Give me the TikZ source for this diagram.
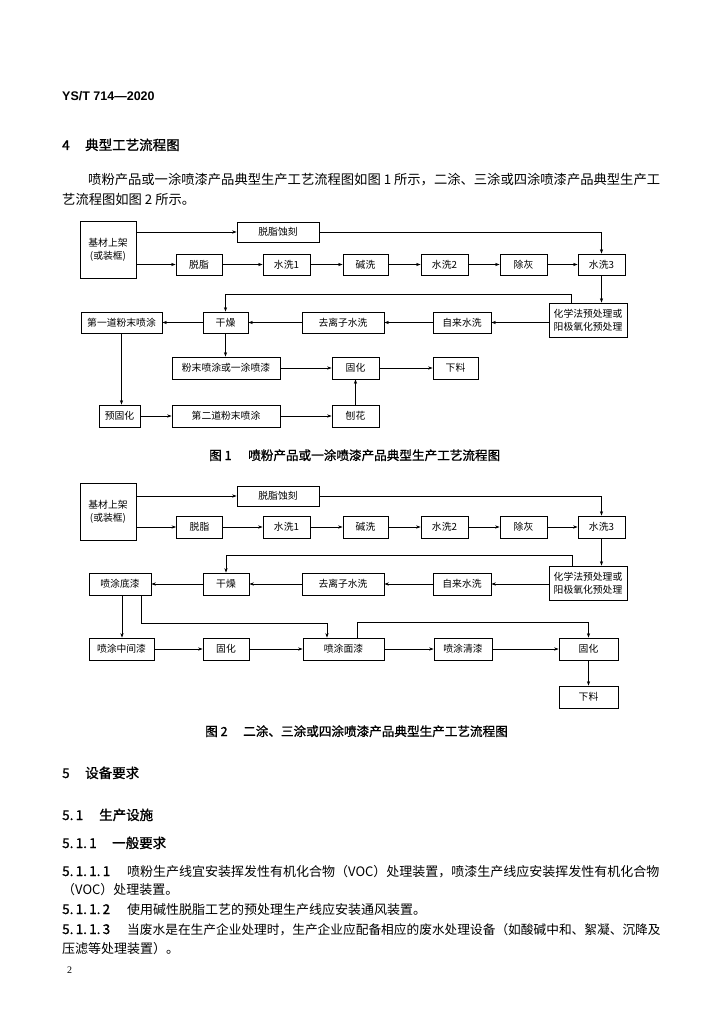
\documentclass[tikz,border=0pt]{standalone}
\usepackage{fontspec}
\setmainfont{Liberation Serif}
\newfontfamily\cjk{Noto Sans CJK SC}
\newfontfamily\cjkb[FakeBold=1.2]{Noto Sans CJK SC}
\newfontfamily\hsans{Liberation Sans}
\usetikzlibrary{arrows.meta}
\begin{document}
\begin{tikzpicture}[x=1pt,y=-1pt,
  box/.style={draw, line width=0.75pt, inner sep=0pt, align=center, font=\cjk\fontsize{9.8}{13}\selectfont},
  arr/.style={draw, line width=0.6pt, -{Stealth[length=4.5pt,width=3.2pt]}},
  txt/.style={anchor=base west, inner sep=0pt, font=\cjk\fontsize{13}{16}\selectfont},
  hd/.style={anchor=base west, inner sep=0pt, font=\cjkb\fontsize{13.5}{16}\selectfont},
  captext/.style={anchor=base west, inner sep=0pt, font=\cjkb\fontsize{12.6}{15}\selectfont}]
\useasboundingbox (0,0) rectangle (724,1024);
\fill[white] (0,0) rectangle (724,1024);

% header and text above
\node[anchor=base west, inner sep=0pt, font=\hsans\bfseries\fontsize{12.5}{15}\selectfont] (hdr) at (62,101) {YS/T 714—2020};
\node[hd] (h4n) at (62,150) {4};
\node[hd] (h4) at (85,150) {典型工艺流程图};
\node[txt, font=\cjk\fontsize{13.3}{16}\selectfont] (p1) at (88,185) {喷粉产品或一涂喷漆产品典型生产工艺流程图如图 1 所示，二涂、三涂或四涂喷漆产品典型生产工};
\node[txt, font=\cjk\fontsize{13.3}{16}\selectfont] (p2) at (62,205) {艺流程图如图 2 所示。};

% ---------------- Figure 1 ----------------
\node[box, minimum width=56pt, minimum height=57pt] (j1) at (108,249.5) {基材上架\\(或装框)};
\node[box, minimum width=82pt, minimum height=20pt] (tsk1) at (278,232) {脱脂蚀刻};
\node[box, minimum width=46pt, minimum height=21pt] (tz1) at (199,264.5) {脱脂};
\node[box, minimum width=47pt, minimum height=21pt] (s11) at (286.5,264.5) {水洗1};
\node[box, minimum width=45pt, minimum height=21pt] (jx1) at (365.5,264.5) {碱洗};
\node[box, minimum width=47pt, minimum height=21pt] (s21) at (444.5,264.5) {水洗2};
\node[box, minimum width=47pt, minimum height=21pt] (ch1) at (523.5,264.5) {除灰};
\node[box, minimum width=47pt, minimum height=21pt] (s31) at (601.5,264.5) {水洗3};
\node[box, minimum width=78pt, minimum height=34pt] (hx1) at (588,320) {化学法预处理或\\阳极氧化预处理};
\node[box, minimum width=58pt, minimum height=21pt] (zl1) at (462,322.5) {自来水洗};
\node[box, minimum width=82pt, minimum height=21pt] (ql1) at (343,322.5) {去离子水洗};
\node[box, minimum width=45pt, minimum height=21pt] (gz1) at (225.5,322.5) {干燥};
\node[box, minimum width=81pt, minimum height=21pt] (d11) at (121.5,322.5) {第一道粉末喷涂};
\node[box, minimum width=108pt, minimum height=22pt] (fm1) at (226,368) {粉末喷涂或一涂喷漆};
\node[box, minimum width=47pt, minimum height=22pt] (gh1) at (355.5,368) {固化};
\node[box, minimum width=45pt, minimum height=22pt] (xl1) at (455.5,368) {下料};
\node[box, minimum width=41pt, minimum height=22pt] (yg1) at (119.5,416) {预固化};
\node[box, minimum width=108pt, minimum height=22pt] (d21) at (226,416) {第二道粉末喷涂};
\node[box, minimum width=47pt, minimum height=22pt] (sh1) at (355.5,416) {刨花};

\draw[arr] (j1.east |- tsk1.west) -- (tsk1.west);
\draw[arr] (j1.east |- tz1.west) -- (tz1.west);
\draw[arr] (tz1) -- (s11);
\draw[arr] (s11) -- (jx1);
\draw[arr] (jx1) -- (s21);
\draw[arr] (s21) -- (ch1);
\draw[arr] (ch1) -- (s31);
\draw[arr] (tsk1.east) -| (s31.north);
\draw[arr] (s31.south) -- (s31.south |- hx1.north);
\draw[arr] (hx1.west |- zl1.east) -- (zl1.east);
\draw[arr] (zl1) -- (ql1);
\draw[arr] (ql1) -- (gz1);
\draw[arr] (gz1) -- (d11);
\draw[arr] ([xshift=-17pt]hx1.north) -- ++(0,-8) -| (gz1.north);
\draw[arr] (gz1.south) -- (gz1.south |- fm1.north);
\draw[arr] (d11.south) -- (d11.south |- yg1.north);
\draw[arr] (yg1) -- (d21);
\draw[arr] (d21) -- (sh1);
\draw[arr] (fm1) -- (gh1);
\draw[arr] (gh1) -- (xl1);
\draw[arr] (sh1) -- (gh1);

\node[captext] (c1n) at (209,460) {图 1};
\node[captext] (c1) at (248,460) {喷粉产品或一涂喷漆产品典型生产工艺流程图};

% ---------------- Figure 2 ----------------
\node[box, minimum width=56pt, minimum height=57pt] (j2) at (108,511.5) {基材上架\\(或装框)};
\node[box, minimum width=82pt, minimum height=20pt] (tsk2) at (278,496) {脱脂蚀刻};
\node[box, minimum width=46pt, minimum height=22pt] (tz2) at (199.5,527) {脱脂};
\node[box, minimum width=47pt, minimum height=22pt] (s12) at (286.5,527) {水洗1};
\node[box, minimum width=45pt, minimum height=22pt] (jx2) at (365.5,527) {碱洗};
\node[box, minimum width=47pt, minimum height=22pt] (s22) at (444.5,527) {水洗2};
\node[box, minimum width=47pt, minimum height=22pt] (ch2) at (523.5,527) {除灰};
\node[box, minimum width=47pt, minimum height=22pt] (s32) at (601.5,527) {水洗3};
\node[box, minimum width=78pt, minimum height=34pt] (hx2) at (588,583) {化学法预处理或\\阳极氧化预处理};
\node[box, minimum width=58pt, minimum height=22pt] (zl2) at (462,584) {自来水洗};
\node[box, minimum width=82pt, minimum height=22pt] (ql2) at (343,584) {去离子水洗};
\node[box, minimum width=46pt, minimum height=22pt] (gz2) at (226,584) {干燥};
\node[box, minimum width=62pt, minimum height=22pt] (dq2) at (120,584) {喷涂底漆};
\node[box, minimum width=65pt, minimum height=22pt] (zj2) at (121.5,649) {喷涂中间漆};
\node[box, minimum width=46pt, minimum height=22pt] (gha2) at (226,649) {固化};
\node[box, minimum width=81pt, minimum height=22pt] (mq2) at (343.5,649) {喷涂面漆};
\node[box, minimum width=58pt, minimum height=22pt] (qq2) at (463,649) {喷涂清漆};
\node[box, minimum width=59pt, minimum height=22pt] (ghb2) at (588.5,649) {固化};
\node[box, minimum width=59pt, minimum height=22pt] (xl2) at (588.5,697) {下料};

\draw[arr] (j2.east |- tsk2.west) -- (tsk2.west);
\draw[arr] (j2.east |- tz2.west) -- (tz2.west);
\draw[arr] (tz2) -- (s12);
\draw[arr] (s12) -- (jx2);
\draw[arr] (jx2) -- (s22);
\draw[arr] (s22) -- (ch2);
\draw[arr] (ch2) -- (s32);
\draw[arr] (tsk2.east) -| (s32.north);
\draw[arr] (s32.south) -- (s32.south |- hx2.north);
\draw[arr] (hx2.west |- zl2.east) -- (zl2.east);
\draw[arr] (zl2) -- (ql2);
\draw[arr] (ql2) -- (gz2);
\draw[arr] (gz2) -- (dq2);
\draw[arr] ([xshift=-16pt]hx2.north) -- ++(0,-10) -| (gz2.north);
\draw[arr] ([xshift=2pt]dq2.south) -- ([xshift=2pt]dq2.south |- zj2.north);
\draw[arr] ([xshift=21pt]dq2.south) -- ++(0,28) -| ([xshift=-16.5pt]mq2.north);
\draw[arr] (zj2) -- (gha2);
\draw[arr] (gha2) -- (mq2);
\draw[arr] (mq2) -- (qq2);
\draw[arr] (qq2) -- (ghb2);
\draw[arr] ([xshift=13.5pt]mq2.north) -- ++(0,-15) -| (ghb2.north);
\draw[arr] (ghb2) -- (xl2);

\node[captext] (c2n) at (205,736) {图 2};
\node[captext] (c2) at (243,736) {二涂、三涂或四涂喷漆产品典型生产工艺流程图};

% ---------------- section 5 ----------------
\node[hd] (h5n) at (62,778) {5};
\node[hd] (h5) at (85,778) {设备要求};
\node[hd] (h51n) at (62,820) {5.\,1};
\node[hd] (h51) at (99,820) {生产设施};
\node[hd] (h511n) at (62,848) {5.\,1.\,1};
\node[hd] (h511) at (112,848) {一般要求};
\node[hd] (n5111) at (62,876) {5.\,1.\,1.\,1};
\node[txt] (t5111) at (127,876) {喷粉生产线宜安装挥发性有机化合物（VOC）处理装置，喷漆生产线应安装挥发性有机化合物};
\node[txt] (t5111b) at (62,894) {（VOC）处理装置。};
\node[hd] (n5112) at (62,914) {5.\,1.\,1.\,2};
\node[txt] (t5112) at (127,914) {使用碱性脱脂工艺的预处理生产线应安装通风装置。};
\node[hd] (n5113) at (62,934) {5.\,1.\,1.\,3};
\node[txt, font=\cjk\fontsize{12.7}{16}\selectfont] (t5113) at (127,934) {当废水是在生产企业处理时，生产企业应配备相应的废水处理设备（如酸碱中和、絮凝、沉降及};
\node[txt] (t5113b) at (62,953) {压滤等处理装置）。};
\node[anchor=base west, inner sep=0pt, font=\fontsize{10}{12}\selectfont] (pg) at (67,973) {2};
\end{tikzpicture}
\end{document}
